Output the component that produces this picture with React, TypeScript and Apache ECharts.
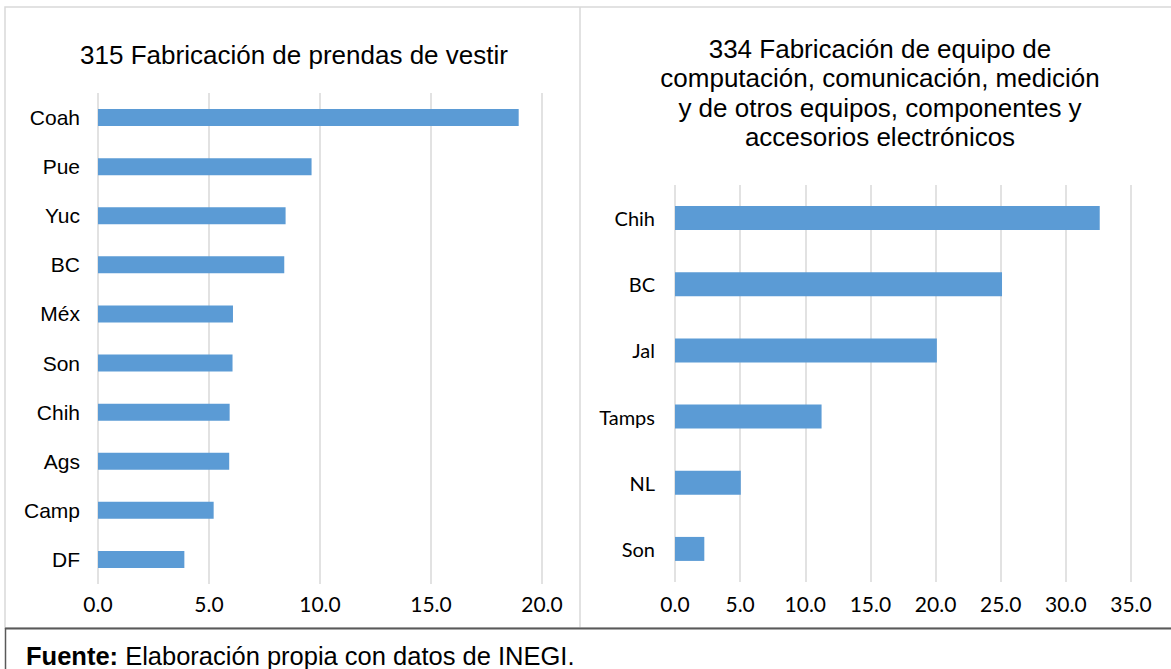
import React, { useEffect, useRef } from "react";
import * as echarts from "echarts";

const title315 = "315 Fabricación de prendas de vestir";
const title334 =
  "334 Fabricación de equipo de\ncomputación, comunicación, medición\ny de otros equipos, componentes y\naccesorios electrónicos";

const states315 = ["Coah", "Pue", "Yuc", "BC", "Méx", "Son", "Chih", "Ags", "Camp", "DF"];
const values315 = [18.95, 9.62, 8.45, 8.39, 6.08, 6.06, 5.93, 5.91, 5.21, 3.89];

const states334 = ["Chih", "BC", "Jal", "Tamps", "NL", "Son"];
const values334 = [32.6, 25.1, 20.1, 11.25, 5.05, 2.25];

const ticks315 = { min: 0, max: 20, interval: 5 };
const ticks334 = { min: 0, max: 35, interval: 5 };

const sourceBold = "Fuente:";
const sourceText = " Elaboración propia con datos de INEGI.";

const BAR = "#5b9bd5";
const GRID = "#d9d9d9";
const CAL = "Lato, 'Open Sans', sans-serif";
const ARIAL = "'Liberation Sans', Arial, sans-serif";

export default function App() {
  const ref = useRef<HTMLDivElement>(null);
  useEffect(() => {
    if (!ref.current) return;
    const chart = echarts.init(ref.current, undefined, { renderer: "svg" });
    const xLabel = {
      color: "#000",
      fontFamily: CAL,
      fontSize: 21,
      margin: 9,
      formatter: (v: number) => v.toFixed(1),
    };
    const xAxisCommon = {
      type: "value",
      axisLine: { show: false },
      axisTick: { show: false },
      splitLine: { show: true, lineStyle: { color: GRID, width: 1.5 } },
    };
    chart.setOption({
      animation: false,
      backgroundColor: "#fff",
      title: [
        {
          text: title315,
          left: 289,
          top: 37,
          textAlign: "center",
          textStyle: {
            fontFamily: ARIAL,
            fontSize: 26,
            fontWeight: "normal",
            color: "#000",
            lineHeight: 26,
          },
        },
        {
          text: title334,
          left: 875,
          top: 29,
          textAlign: "center",
          textStyle: {
            fontFamily: ARIAL,
            fontSize: 26,
            fontWeight: "normal",
            color: "#000",
            lineHeight: 29.5,
          },
        },
      ],
      grid: [
        { left: 98, right: 629, top: 93, bottom: 85 },
        { left: 675, right: 40, top: 185, bottom: 87 },
      ],
      xAxis: [
        { ...xAxisCommon, gridIndex: 0, ...ticks315, axisLabel: { ...xLabel } },
        { ...xAxisCommon, gridIndex: 1, ...ticks334, axisLabel: { ...xLabel, margin: 11 } },
      ],
      yAxis: [
        {
          type: "category",
          gridIndex: 0,
          data: states315,
          inverse: true,
          axisLine: { show: false },
          axisTick: { show: false },
          axisLabel: { color: "#000", fontFamily: ARIAL, fontSize: 21, margin: 18 },
        },
        {
          type: "category",
          gridIndex: 1,
          data: states334,
          inverse: true,
          axisLine: { show: false },
          axisTick: { show: false },
          axisLabel: { color: "#000", fontFamily: CAL, fontSize: 20, margin: 20 },
        },
      ],
      series: [
        {
          type: "bar",
          xAxisIndex: 0,
          yAxisIndex: 0,
          data: values315,
          barWidth: 17,
          itemStyle: { color: BAR },
        },
        {
          type: "bar",
          xAxisIndex: 1,
          yAxisIndex: 1,
          data: values334,
          barWidth: 24,
          itemStyle: { color: BAR },
        },
      ],
      graphic: [
        {
          type: "rect",
          shape: { x: 5, y: 7, width: 1175, height: 621 },
          style: { fill: "none", stroke: GRID, lineWidth: 1.5 },
          silent: true,
        },
        {
          type: "line",
          shape: { x1: 580, y1: 7, x2: 580, y2: 628 },
          style: { stroke: GRID, lineWidth: 1.5 },
          silent: true,
        },
        {
          type: "line",
          shape: { x1: 5, y1: 628.5, x2: 1171, y2: 628.5 },
          style: { stroke: "#595959", lineWidth: 2 },
          silent: true,
        },
        {
          type: "line",
          shape: { x1: 5.5, y1: 628, x2: 5.5, y2: 669 },
          style: { stroke: "#595959", lineWidth: 1.5 },
          silent: true,
        },
        {
          type: "text",
          x: 26,
          y: 656,
          style: {
            text: "{b|" + sourceBold + "}{r|" + sourceText + "}",
            verticalAlign: "middle",
            rich: {
              b: { fontFamily: ARIAL, fontSize: 25.5, fontWeight: "bold", fill: "#000" },
              r: { fontFamily: ARIAL, fontSize: 25.5, fill: "#000" },
            },
          },
          silent: true,
        },
      ],
    });
    return () => chart.dispose();
  }, []);
  return (
    <div
      ref={ref}
      style={{ position: "fixed", left: 0, top: 0, width: 1171, height: 669, background: "#fff" }}
    />
  );
}
